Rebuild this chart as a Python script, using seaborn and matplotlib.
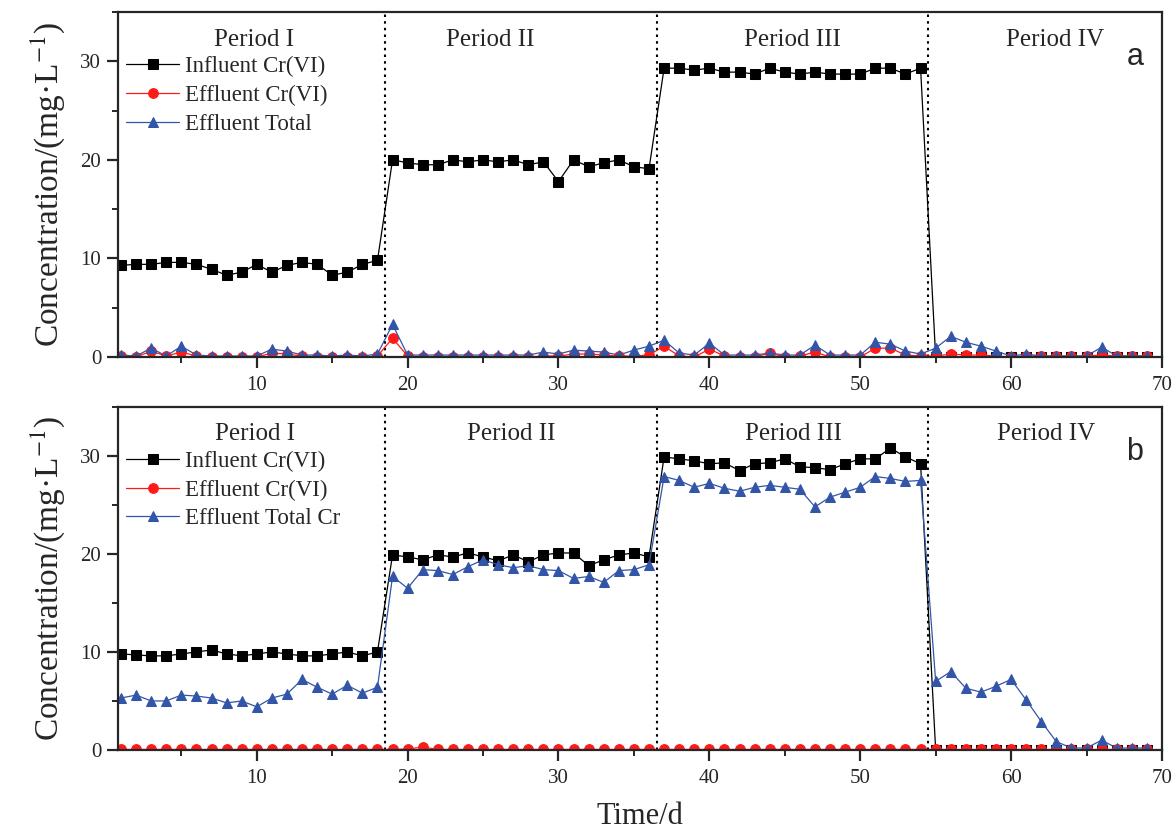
import matplotlib.pyplot as plt
import seaborn as sns
from matplotlib.ticker import MultipleLocator

# ── data ─────────────────────────────────────────────────────────────────
days = list(range(1, 70))

period_edges = [18.5, 36.5, 54.5]
period_names = ["Period I", "Period II", "Period III", "Period IV"]

# panel a
a_influent = [
    9.3, 9.4, 9.4, 9.6, 9.6, 9.4, 8.9, 8.3, 8.6, 9.4, 8.6, 9.3, 9.6, 9.4, 8.3, 8.6, 9.4, 9.8,
    20.0, 19.7, 19.5, 19.5, 20.0, 19.8, 20.0, 19.8, 20.0, 19.5, 19.8, 17.8, 20.0, 19.3, 19.7, 20.0, 19.3, 19.1,
    29.3, 29.3, 29.1, 29.3, 28.9, 28.9, 28.7, 29.3, 28.9, 28.7, 28.9, 28.7, 28.7, 28.7, 29.3, 29.3, 28.7, 29.3,
    0.0, 0.0, 0.0, 0.0, 0.0, 0.0, 0.0, 0.0, 0.0, 0.0, 0.0, 0.0, 0.0, 0.0, 0.0,
]
a_eff_cr6 = [
    0.1, 0.0, 0.6, 0.1, 0.5, 0.1, 0.0, 0.0, 0.0, 0.0, 0.4, 0.3, 0.1, 0.0, 0.0, 0.0, 0.0, 0.1,
    1.9, 0.1, 0.0, 0.0, 0.0, 0.0, 0.0, 0.0, 0.0, 0.0, 0.1, 0.1, 0.3, 0.3, 0.2, 0.1, 0.1, 0.2,
    1.1, 0.1, 0.0, 0.8, 0.1, 0.0, 0.0, 0.4, 0.0, 0.1, 0.5, 0.0, 0.0, 0.0, 0.9, 0.9, 0.2, 0.1,
    0.1, 0.3, 0.2, 0.2, 0.1, 0.0, 0.1, 0.1, 0.1, 0.1, 0.1, 0.2, 0.1, 0.1, 0.1,
]
a_eff_total = [
    0.2, 0.1, 0.9, 0.1, 1.1, 0.2, 0.1, 0.1, 0.1, 0.1, 0.8, 0.6, 0.2, 0.2, 0.1, 0.2, 0.1, 0.3,
    3.3, 0.2, 0.2, 0.2, 0.2, 0.2, 0.2, 0.2, 0.2, 0.2, 0.5, 0.3, 0.7, 0.6, 0.5, 0.2, 0.7, 1.1,
    1.7, 0.4, 0.2, 1.4, 0.2, 0.2, 0.2, 0.4, 0.2, 0.2, 1.2, 0.2, 0.2, 0.2, 1.5, 1.3, 0.6, 0.3,
    0.9, 2.1, 1.5, 1.1, 0.6, 0.1, 0.3, 0.1, 0.1, 0.1, 0.1, 1.0, 0.1, 0.1, 0.1,
]

# panel b
b_influent = [
    9.8, 9.7, 9.6, 9.6, 9.8, 10.0, 10.2, 9.8, 9.6, 9.8, 10.0, 9.8, 9.6, 9.6, 9.8, 10.0, 9.6, 10.0,
    19.9, 19.7, 19.4, 19.9, 19.7, 20.1, 19.7, 19.3, 19.9, 19.2, 19.9, 20.1, 20.1, 18.8, 19.4, 19.9, 20.1, 19.7,
    29.9, 29.7, 29.5, 29.2, 29.3, 28.5, 29.2, 29.3, 29.7, 28.9, 28.8, 28.6, 29.2, 29.7, 29.7, 30.8, 29.9, 29.2,
    0.0, 0.0, 0.0, 0.0, 0.0, 0.0, 0.0, 0.0, 0.0, 0.0, 0.0, 0.0, 0.0, 0.0, 0.0,
]
b_eff_cr6 = [
    0.05, 0.05, 0.05, 0.05, 0.05, 0.05, 0.05, 0.05, 0.05, 0.05, 0.05, 0.05, 0.05, 0.05, 0.05, 0.05, 0.05, 0.05,
    0.05, 0.1, 0.3, 0.05, 0.05, 0.05, 0.05, 0.05, 0.05, 0.05, 0.05, 0.05, 0.05, 0.05, 0.05, 0.05, 0.05, 0.05,
    0.05, 0.05, 0.05, 0.05, 0.05, 0.05, 0.05, 0.05, 0.05, 0.05, 0.05, 0.05, 0.05, 0.05, 0.05, 0.05, 0.05, 0.05,
    0.05, 0.05, 0.05, 0.05, 0.05, 0.05, 0.05, 0.05, 0.05, 0.05, 0.05, 0.05, 0.05, 0.05, 0.05,
]
b_eff_total = [
    5.3, 5.6, 5.0, 5.0, 5.6, 5.5, 5.3, 4.8, 5.0, 4.4, 5.3, 5.7, 7.2, 6.4, 5.7, 6.6, 5.8, 6.4,
    17.7, 16.5, 18.4, 18.3, 17.9, 18.7, 19.4, 18.9, 18.6, 18.8, 18.4, 18.3, 17.5, 17.7, 17.1, 18.3, 18.4, 18.9,
    27.9, 27.5, 26.8, 27.2, 26.7, 26.4, 26.8, 27.0, 26.8, 26.6, 24.8, 25.8, 26.3, 26.8, 27.9, 27.7, 27.4, 27.5,
    7.0, 8.0, 6.3, 5.9, 6.5, 7.2, 5.1, 2.9, 0.85, 0.2, 0.2, 1.0, 0.2, 0.2, 0.2,
]

# ── style ────────────────────────────────────────────────────────────────
sns.set_theme(style="ticks")
plt.rcParams["font.family"] = ["Liberation Serif", "DejaVu Serif"]
plt.rcParams["mathtext.fontset"] = "stix"
plt.rcParams["axes.linewidth"] = 1.6
plt.rcParams["xtick.major.width"] = 1.6
plt.rcParams["ytick.major.width"] = 1.6
plt.rcParams["xtick.minor.width"] = 1.4
plt.rcParams["ytick.minor.width"] = 1.4
plt.rcParams["xtick.major.size"] = 8
plt.rcParams["ytick.major.size"] = 8
plt.rcParams["xtick.minor.size"] = 4.5
plt.rcParams["ytick.minor.size"] = 4.5
plt.rcParams["xtick.labelsize"] = 15
plt.rcParams["ytick.labelsize"] = 15

BLACK = "#000000"
RED = "#ff1a1a"
BLUE = "#3355a8"

fig = plt.figure(figsize=(11.75, 8.32), dpi=100)
ax_a = fig.add_axes([0.1004, 0.5709, 0.8885, 0.4147])
ax_b = fig.add_axes([0.1004, 0.0986, 0.8885, 0.4123])

panels = [
    (ax_a, a_influent, a_eff_cr6, a_eff_total, "Effluent Total", "a",
     [9.8, 25.5, 45.5, 62.9]),
    (ax_b, b_influent, b_eff_cr6, b_eff_total, "Effluent Total Cr", "b",
     [9.9, 26.9, 45.6, 62.3]),
]

for ax, infl, eff6, efft, tot_label, letter, label_x in panels:
    sns.lineplot(x=days, y=infl, ax=ax, color=BLACK, marker="s", markersize=6.8,
                 markeredgecolor=BLACK, linewidth=0.9, label="Influent Cr(VI)")
    sns.lineplot(x=days, y=eff6, ax=ax, color=RED, marker="o", markersize=7,
                 markeredgecolor=RED, linewidth=0.9, label="Effluent Cr(VI)")
    sns.lineplot(x=days, y=efft, ax=ax, color=BLUE, marker="^", markersize=7.5,
                 markeredgecolor=BLUE, linewidth=0.9, label=tot_label)

    for edge in period_edges:
        ax.axvline(edge, color="black", linestyle=(0, (1.2, 2.0)), linewidth=1.5, zorder=1)

    for name, xc in zip(period_names, label_x):
        ax.text(xc, 32.2, name, ha="center", va="center", fontsize=18)

    ax.text(0.974, 0.87, letter, transform=ax.transAxes, ha="center", va="center",
            fontsize=22, family="Liberation Sans")

    ax.set_xlim(0.8, 70)
    ax.set_ylim(0, 35)
    ax.xaxis.set_major_locator(MultipleLocator(10))
    ax.xaxis.set_minor_locator(MultipleLocator(5))
    ax.yaxis.set_major_locator(MultipleLocator(10))
    ax.yaxis.set_minor_locator(MultipleLocator(5))
    ax.tick_params(which="both", direction="out", top=False, right=False)
    ax.tick_params(axis="x", pad=6)
    ax.tick_params(axis="y", pad=4)
    ax.set_xlabel("")
    ax.set_ylabel("Concentration/(mg·L$^{-1}$)", fontsize=24, labelpad=10)
    for side in ["top", "right", "left", "bottom"]:
        ax.spines[side].set_visible(True)

    ax.legend(loc="upper left", bbox_to_anchor=(0.008, 0.872), frameon=False,
              fontsize=16.5, borderpad=0, borderaxespad=0, labelspacing=0.33,
              handlelength=2.3, handletextpad=0.25)

ax_b.set_xlabel("Time/d", fontsize=22, labelpad=10)

fig.savefig("out.png", dpi=100)
